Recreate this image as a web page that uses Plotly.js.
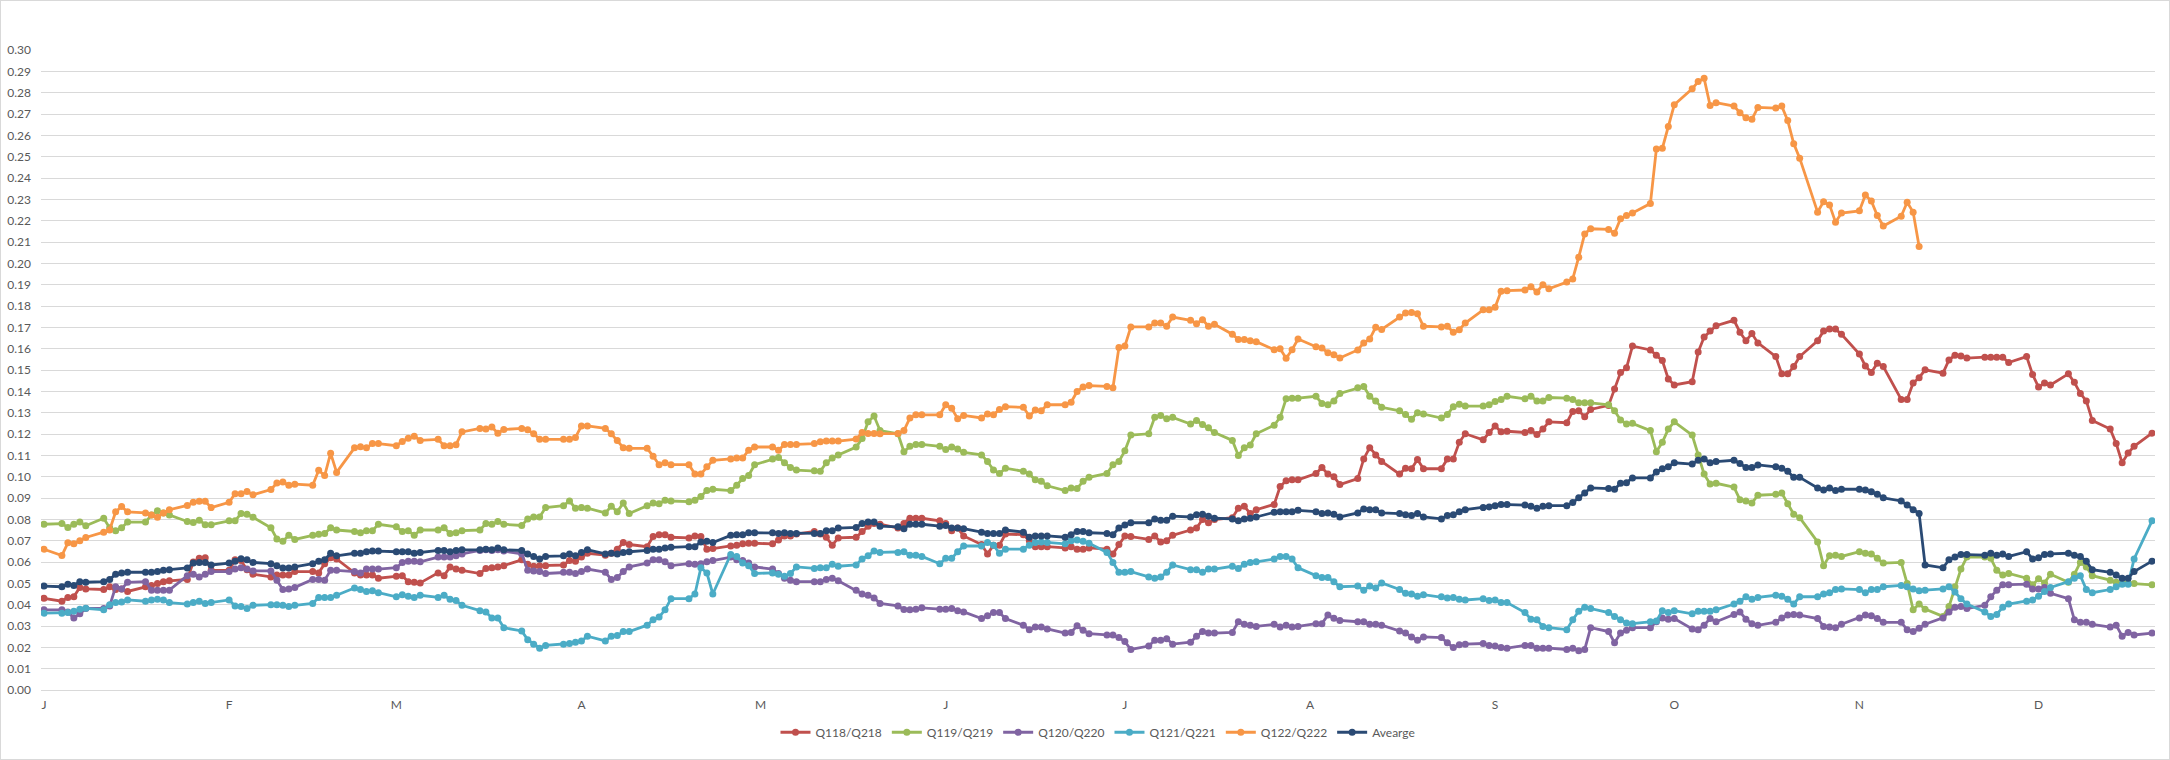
<!DOCTYPE html>
<html>
<head>
<meta charset="utf-8">
<script src="https://cdn.plot.ly/plotly-3.0.1.min.js"></script>
<style>
  body { margin: 0; background: #fff; }
  #chart { width: 2170px; height: 760px; box-sizing: border-box; border: 1px solid #d9d9d9; }
</style>
</head>
<body>
<div id="chart"></div>
<script>
// one value per business day, 1 Jan - 20 Dec 2021, one row per month
var q118 = [
  0.043,0.0416,0.0434,0.0437,0.0481,0.0474,0.0471,0.0484,0.0471,0.0474,0.0462,0.0484,0.049,0.0499,0.0508,0.0512,0.0518,0.060,0.0617,0.062,0.0561,
  0.0561,0.061,0.0607,0.0564,0.0543,0.053,0.0539,0.0539,0.0539,0.0555,0.0555,0.0549,0.0592,0.062,0.0614,0.0549,0.0539,0.0539,0.0539,0.0524,
  0.0533,0.0536,0.0508,0.0505,0.0502,0.0549,0.0536,0.0577,0.0567,0.0561,0.0546,0.057,0.0573,0.0577,0.0583,0.061,0.0589,0.058,0.0583,0.0583,0.0586,0.0607,0.0604,
  0.0623,0.0641,0.0632,0.0641,0.066,0.0691,0.0682,0.0672,0.0719,0.0728,0.0728,0.0716,0.0713,0.0722,0.0719,0.066,0.0663,0.0675,0.0679,0.0685,0.0688,0.0688,
  0.0685,0.0703,0.0722,0.0722,0.0731,0.0743,0.0731,0.0716,0.0679,0.0713,0.0716,0.0743,0.0768,0.078,0.0777,0.0759,0.0781,0.0805,0.0805,0.0805,0.0793,
  0.0781,0.0747,0.0759,0.0722,0.0682,0.0638,0.0679,0.0679,0.0731,0.0728,0.07,0.0672,0.0672,0.0672,0.0666,0.0672,0.066,0.066,0.0666,0.066,0.0638,0.0682,
  0.0722,0.0719,0.0706,0.0722,0.0694,0.07,0.0725,0.075,0.0759,0.0799,0.0784,0.0799,0.0808,0.0852,0.0861,0.0827,0.0845,0.087,0.0954,0.0981,0.0985,0.0985,
  0.1015,0.1043,0.1012,0.1,0.0963,0.0991,0.1083,0.1136,0.1102,0.1071,0.1012,0.104,0.1037,0.108,0.1037,0.1037,0.1083,0.1083,0.1161,0.1201,0.1173,0.1207,
  0.1238,0.121,0.1213,0.1207,0.1216,0.1198,0.1223,0.1257,0.1253,0.1306,0.1309,0.1281,0.1315,0.1334,0.1411,0.1488,0.151,0.1612,0.1594,0.1569,0.1544,0.1458,
  0.143,0.1445,0.1584,0.1655,0.1683,0.1708,0.1733,0.1677,0.1637,0.1671,0.1627,0.1563,0.1482,0.1482,0.1516,0.1563,0.1637,0.1683,0.1692,0.1692,0.1667,
  0.1575,0.1519,0.1488,0.1532,0.1516,0.1362,0.1362,0.1439,0.1464,0.1501,0.1485,0.1547,0.1569,0.1566,0.1556,0.156,0.156,0.156,0.156,0.1535,0.1563,0.1479,
  0.142,0.1439,0.143,0.1482,0.1442,0.139,0.1355,0.1263,0.1223,0.1155,0.1065,0.1111,0.1142,0.1204
];
var q119 = [
  0.0777,0.078,0.0762,0.0777,0.0787,0.077,0.0805,0.076,0.0747,0.076,0.0787,0.0787,0.082,0.084,0.083,0.082,0.079,0.0785,0.0796,0.0775,0.0775,
  0.0793,0.0793,0.0827,0.0824,0.081,0.076,0.0708,0.0697,0.0725,0.0706,0.0725,0.073,0.0734,0.076,0.075,0.0743,0.0737,0.0747,0.0747,0.0777,
  0.0765,0.0743,0.0747,0.0725,0.075,0.075,0.076,0.0734,0.0737,0.0747,0.075,0.078,0.0777,0.079,0.0777,0.0771,0.0802,0.0811,0.0811,0.0855,0.0864,0.0886,0.0852,
  0.0855,0.0852,0.083,0.0861,0.0836,0.0876,0.0827,0.0864,0.0876,0.0873,0.0889,0.0886,0.0883,0.0889,0.0907,0.0935,0.0941,0.0935,0.096,0.0991,0.1006,0.1056,
  0.1083,0.109,0.1065,0.1043,0.1031,0.1028,0.1025,0.1065,0.1087,0.1102,0.1139,0.1179,0.1257,0.1284,0.1216,0.1201,0.1117,0.1142,0.1151,0.1151,0.1142,
  0.1127,0.1139,0.113,0.1114,0.1102,0.1071,0.1031,0.1015,0.104,0.1025,0.1012,0.0985,0.0978,0.0957,0.0935,0.0947,0.0944,0.0978,0.0997,0.1015,0.1056,0.1071,
  0.1121,0.1195,0.1201,0.1278,0.1287,0.1272,0.1278,0.1247,0.1263,0.1244,0.1229,0.1207,0.117,0.1099,0.1136,0.1148,0.1201,0.1241,0.1278,0.1365,0.1368,0.1368,
  0.1377,0.1343,0.1337,0.1355,0.139,0.1417,0.1423,0.1377,0.1355,0.1325,0.1309,0.1291,0.1269,0.13,0.1294,0.1275,0.1291,0.1328,0.134,0.1331,0.1331,0.1337,
  0.1352,0.1362,0.1377,0.1365,0.1377,0.1355,0.1355,0.1371,0.1368,0.1362,0.1346,0.1346,0.1346,0.1337,0.1309,0.1266,0.1247,0.125,0.1216,0.1117,0.1161,0.1223,
  0.1257,0.1195,0.1102,0.1012,0.0966,0.0969,0.0951,0.0892,0.0886,0.0876,0.0913,0.0917,0.0923,0.0873,0.0824,0.0808,0.0694,0.0583,0.0629,0.0632,0.0626,
  0.0648,0.0641,0.0638,0.0617,0.0595,0.0598,0.0499,0.0376,0.0403,0.0379,0.0345,0.0391,0.0484,0.0567,0.0623,0.0623,0.0617,0.0561,0.0539,0.0546,0.0524,0.0493,
  0.0521,0.0502,0.0543,0.0505,0.0543,0.0598,0.0577,0.0536,0.0515,0.0505,0.0499,0.0502,0.0499,0.0493
];
var q120 = [
  0.0376,0.0376,0.0366,0.0338,0.0357,0.0382,0.0382,0.0394,0.0484,0.0474,0.0505,0.0508,0.0468,0.0468,0.0468,0.0468,0.0536,0.0543,0.053,0.0543,0.0555,
  0.0555,0.0567,0.0573,0.0567,0.0558,0.0558,0.0515,0.0471,0.0474,0.0481,0.0518,0.0518,0.0515,0.0561,0.0561,0.0555,0.0549,0.0567,0.0567,0.0567,
  0.0573,0.0598,0.0604,0.0604,0.0601,0.0623,0.0623,0.0623,0.0629,0.0638,0.0654,0.0657,0.0654,0.0657,0.0651,0.0638,0.0561,0.0558,0.0555,0.0546,0.0552,0.0552,0.0546,
  0.0555,0.0567,0.0552,0.0518,0.0527,0.0555,0.0577,0.0595,0.061,0.061,0.0601,0.0583,0.0592,0.0589,0.0592,0.0601,0.0607,0.0623,0.061,0.0607,0.0595,0.0577,
  0.0567,0.0546,0.0524,0.0515,0.0508,0.0508,0.0508,0.0518,0.0524,0.0512,0.0468,0.045,0.0444,0.0431,0.0406,0.0394,0.0377,0.0376,0.0379,0.0385,0.0379,
  0.0379,0.0382,0.0372,0.0366,0.0335,0.0348,0.0363,0.0363,0.0335,0.0304,0.0283,0.0295,0.0295,0.0286,0.0267,0.027,0.0301,0.028,0.0264,0.0258,0.0258,0.0246,
  0.0227,0.019,0.0206,0.0233,0.0233,0.024,0.0215,0.0224,0.0252,0.0274,0.0267,0.0267,0.027,0.032,0.0308,0.0304,0.0298,0.0308,0.0295,0.0304,0.0295,0.0298,
  0.0311,0.0311,0.0351,0.0336,0.0326,0.032,0.032,0.0308,0.0308,0.0304,0.0277,0.0267,0.0249,0.0233,0.0249,0.0246,0.0221,0.0199,0.0212,0.0215,0.0218,0.0209,
  0.0206,0.0199,0.0196,0.0209,0.0209,0.0196,0.0196,0.0196,0.019,0.0196,0.0184,0.019,0.0292,0.0274,0.0221,0.0267,0.028,0.0292,0.0292,0.032,0.0338,0.0332,
  0.0335,0.0286,0.0283,0.0304,0.0335,0.032,0.0354,0.0366,0.0332,0.0311,0.0303,0.0318,0.0338,0.0351,0.0354,0.0351,0.0335,0.0298,0.0295,0.0292,0.0308,
  0.0338,0.0351,0.0348,0.0335,0.0317,0.0317,0.0283,0.0274,0.0289,0.0308,0.0338,0.0366,0.0388,0.0391,0.0382,0.0397,0.0437,0.0468,0.0493,0.0493,0.0496,0.0474,
  0.0474,0.0481,0.0453,0.0428,0.0329,0.0317,0.0317,0.0308,0.0295,0.0304,0.0252,0.027,0.0258,0.0267
];
var q121 = [
  0.036,0.036,0.0363,0.0369,0.0379,0.0383,0.0376,0.04,0.041,0.0413,0.0422,0.0416,0.0422,0.0425,0.0422,0.041,0.0403,0.041,0.0416,0.0406,0.041,
  0.0422,0.0394,0.0391,0.0382,0.0397,0.04,0.04,0.0397,0.0391,0.0397,0.0406,0.0434,0.0434,0.0434,0.0444,0.0478,0.0471,0.0462,0.0465,0.0456,
  0.0437,0.0447,0.044,0.0434,0.0444,0.0434,0.0444,0.0425,0.0419,0.0397,0.0372,0.0366,0.0338,0.0338,0.0292,0.0277,0.0236,0.0215,0.0196,0.0209,0.0215,0.0218,0.0224,
  0.023,0.0252,0.023,0.0252,0.0255,0.0274,0.0274,0.0304,0.0329,0.0342,0.0376,0.0428,0.0428,0.045,0.0573,0.0549,0.045,0.0635,0.0626,0.0595,0.0583,0.0546,
  0.0549,0.0543,0.0533,0.0546,0.0577,0.057,0.0573,0.0573,0.0589,0.058,0.0586,0.0614,0.0629,0.0651,0.0645,0.0645,0.0648,0.0632,0.0632,0.0626,0.0592,
  0.0617,0.0617,0.0648,0.0675,0.0675,0.0691,0.0679,0.0641,0.066,0.066,0.0679,0.0691,0.0694,0.0691,0.0685,0.07,0.0703,0.0697,0.0688,0.0645,0.0598,0.0552,
  0.0552,0.0555,0.053,0.0524,0.053,0.0552,0.0586,0.0564,0.0564,0.0552,0.0567,0.0567,0.058,0.057,0.0589,0.0598,0.0601,0.0614,0.0626,0.0626,0.0614,0.0573,
  0.0536,0.0527,0.0527,0.0508,0.0484,0.0487,0.0468,0.0487,0.0478,0.0502,0.0471,0.0453,0.045,0.044,0.0447,0.0437,0.0431,0.0434,0.0425,0.0422,0.0428,0.0419,
  0.0422,0.041,0.041,0.0363,0.0332,0.0329,0.0298,0.0292,0.0283,0.0329,0.0369,0.0388,0.0382,0.0363,0.0345,0.0329,0.0314,0.0311,0.032,0.0323,0.0372,0.0363,
  0.0372,0.0357,0.0369,0.0369,0.0369,0.0376,0.0403,0.0416,0.0437,0.0425,0.0434,0.0444,0.044,0.0425,0.0403,0.0437,0.0437,0.045,0.0456,0.0471,0.0474,
  0.0471,0.0456,0.0471,0.0471,0.0484,0.049,0.0484,0.0474,0.0465,0.0468,0.0474,0.0484,0.0459,0.0428,0.0403,0.0366,0.0345,0.0354,0.0388,0.0403,0.0416,0.0422,
  0.044,0.0462,0.0481,0.0508,0.0524,0.0536,0.0471,0.0456,0.0471,0.0484,0.0496,0.0496,0.0614,0.0793
];
// this series stops on 11 Nov
var q122 = [
  0.066,0.063,0.069,0.0685,0.070,0.0715,0.074,0.075,0.0835,0.086,0.0835,0.083,0.082,0.081,0.083,0.0845,0.0865,0.088,0.0885,0.0885,0.0855,
  0.088,0.092,0.092,0.093,0.0915,0.094,0.097,0.0975,0.096,0.0965,0.096,0.103,0.1005,0.111,0.102,0.1135,0.114,0.1135,0.1155,0.1155,
  0.1145,0.1165,0.118,0.119,0.117,0.1175,0.1145,0.1145,0.115,0.121,0.1226,0.1223,0.1233,0.1204,0.1221,0.1226,0.122,0.1201,0.1175,0.1175,0.1175,0.1175,0.1184,
  0.1238,0.1238,0.1226,0.1201,0.117,0.1136,0.1133,0.1133,0.1096,0.1056,0.1065,0.1056,0.1056,0.1012,0.1012,0.1046,0.1077,0.1083,0.1087,0.1087,0.1124,0.1139,
  0.1139,0.1124,0.1151,0.1151,0.1151,0.1155,0.1164,0.1167,0.1167,0.1167,0.1176,0.1207,0.1202,0.1202,0.1201,0.1202,0.1216,0.1275,0.129,0.129,0.129,
  0.1337,0.1321,0.1272,0.1287,0.1275,0.1294,0.129,0.1315,0.1328,0.1325,0.1284,0.1312,0.1309,0.1337,0.1337,0.1349,0.1399,0.142,0.1427,0.1423,0.1417,0.1605,
  0.1612,0.1702,0.1702,0.172,0.172,0.1705,0.1748,0.1733,0.1717,0.1736,0.1705,0.1714,0.1668,0.1643,0.1643,0.1637,0.1633,0.1595,0.16,0.1555,0.1595,0.1645,
  0.1609,0.1603,0.1581,0.1572,0.1556,0.1594,0.1627,0.1645,0.170,0.169,0.1748,0.1767,0.177,0.1764,0.1705,0.1702,0.1705,0.1677,0.1689,0.172,0.1782,0.1782,
  0.1794,0.1869,0.1872,0.1875,0.189,0.1866,0.19,0.1881,0.1912,0.1927,0.2029,0.2138,0.2162,0.2159,0.2141,0.2209,0.2224,0.2236,0.228,0.2536,0.2539,0.2641,
  0.2743,0.2818,0.2852,0.2867,0.274,0.2753,0.2737,0.2706,0.2682,0.2675,0.2731,0.2728,0.2737,0.2669,0.2561,0.2493,0.224,0.2289,0.2274,0.2193,0.2236,
  0.2246,0.232,0.2292,0.2224,0.2175,0.2221,0.2286,0.224,0.2079
];
var avearge = [
  0.0487,0.0484,0.0496,0.049,0.0508,0.0505,0.0508,0.0518,0.0543,0.0549,0.0552,0.0552,0.0552,0.0556,0.0561,0.0564,0.0572,0.0595,0.0598,0.0598,0.0586,
  0.0595,0.0604,0.0615,0.061,0.0598,0.0592,0.0583,0.0572,0.0572,0.0577,0.0592,0.0604,0.061,0.0641,0.0629,0.0641,0.0641,0.0648,0.0651,0.0651,
  0.0648,0.0648,0.0648,0.0641,0.0645,0.0654,0.0654,0.0648,0.0654,0.0657,0.0657,0.066,0.0657,0.0666,0.0657,0.0654,0.0638,0.0626,0.0614,0.0626,0.0629,0.0638,0.0629,
  0.0645,0.0657,0.0638,0.0641,0.0638,0.0645,0.0648,0.0654,0.066,0.066,0.0666,0.0669,0.0672,0.0672,0.0694,0.0697,0.0691,0.0725,0.0728,0.0728,0.0737,0.0737,
  0.0737,0.0734,0.0737,0.0734,0.0734,0.0734,0.0734,0.0747,0.0747,0.0759,0.0762,0.078,0.0787,0.0787,0.0768,0.0765,0.0756,0.0777,0.0777,0.0777,0.0768,
  0.0771,0.0759,0.0759,0.0756,0.074,0.0734,0.0734,0.0734,0.075,0.074,0.0716,0.0722,0.0722,0.0722,0.0716,0.0728,0.0743,0.0743,0.0737,0.0734,0.0728,0.0759,
  0.0774,0.0784,0.0784,0.0802,0.0796,0.0796,0.0815,0.0811,0.0821,0.0824,0.0815,0.0805,0.0802,0.0793,0.0802,0.0805,0.0811,0.0833,0.0836,0.0836,0.0836,0.0842,
  0.0836,0.0827,0.083,0.0824,0.0811,0.083,0.0849,0.0845,0.0845,0.083,0.0827,0.0821,0.0818,0.0827,0.0811,0.0802,0.0818,0.0821,0.0836,0.0845,0.0855,0.0858,
  0.0864,0.087,0.087,0.0867,0.0861,0.0852,0.0861,0.0864,0.0864,0.0879,0.0901,0.0923,0.0947,0.0944,0.0941,0.0969,0.0972,0.0994,0.0994,0.1022,0.1037,0.1046,
  0.1065,0.1059,0.1077,0.1083,0.1065,0.1071,0.1077,0.1062,0.1043,0.1043,0.1055,0.1046,0.104,0.1025,0.0997,0.0997,0.0947,0.0938,0.0947,0.0935,0.0941,
  0.0941,0.0938,0.0929,0.0917,0.0901,0.0886,0.0867,0.0845,0.0827,0.0586,0.0573,0.061,0.0623,0.0635,0.0635,0.0632,0.0641,0.0632,0.0638,0.0626,0.0648,0.0614,
  0.062,0.0635,0.0638,0.0641,0.0632,0.0626,0.0604,0.0564,0.0552,0.0539,0.0524,0.0524,0.0555,0.0604
];

var monthStarts = ["2021-01-01","2021-02-01","2021-03-01","2021-04-01","2021-05-01","2021-06-01",
                   "2021-07-01","2021-08-01","2021-09-01","2021-10-01","2021-11-01","2021-12-01"];
var monthLetters = ["J","F","M","A","M","J","J","A","S","O","N","D"];

// weekdays from first to last date
function businessDays(start, end) {
  var out = [];
  var d = new Date(start + "T00:00:00Z");
  var last = new Date(end + "T00:00:00Z");
  while (d <= last) {
    var wd = d.getUTCDay();
    if (wd !== 0 && wd !== 6) out.push(d.toISOString().slice(0, 10));
    d.setUTCDate(d.getUTCDate() + 1);
  }
  return out;
}
var days = businessDays("2021-01-01", "2021-12-20");

function series(name, y, color) {
  return {
    x: days,
    y: y,
    name: name,
    type: "scatter",
    mode: "lines+markers",
    line: { color: color, width: 2.8 },
    marker: { color: color, size: 7, symbol: "circle" },
  };
}

var traces = [
  series("Q118/Q218", q118, "#C0504D"),
  series("Q119/Q219", q119, "#9BBB59"),
  series("Q120/Q220", q120, "#8064A2"),
  series("Q121/Q221", q121, "#4BACC6"),
  series("Q122/Q222", q122, "#F79646"),
  series("Avearge", avearge, "#2A4A74"),
];

var layout = {
  width: 2168,
  height: 758,
  margin: { l: 40, r: 14, t: 49, b: 62 },
  paper_bgcolor: "#ffffff",
  plot_bgcolor: "#ffffff",
  font: { family: "Lato, 'Open Sans', sans-serif", size: 12, color: "#595959" },
  showlegend: true,
  legend: {
    orientation: "h",
    x: 0.5,
    xanchor: "center",
    y: -0.066,
    yanchor: "middle",
    font: { size: 12, color: "#595959" },
  },
  xaxis: {
    type: "date",
    range: ["2020-12-31 12:00", "2021-12-20 12:00"],
    tickmode: "array",
    tickvals: monthStarts,
    ticktext: monthLetters,
    showgrid: false,
    zeroline: false,
    showline: false,
    ticks: "",
    ticklabelstandoff: 6,
  },
  yaxis: {
    range: [0, 0.3],
    tick0: 0,
    dtick: 0.01,
    tickformat: ".2f",
    gridcolor: "#d9d9d9",
    gridwidth: 1,
    zeroline: true,
    zerolinecolor: "#d9d9d9",
    zerolinewidth: 1,
    showline: false,
    ticks: "",
    ticklabelstandoff: 9,
  },
};

Plotly.newPlot("chart", traces, layout, { displayModeBar: false, staticPlot: true });
</script>
</body>
</html>
